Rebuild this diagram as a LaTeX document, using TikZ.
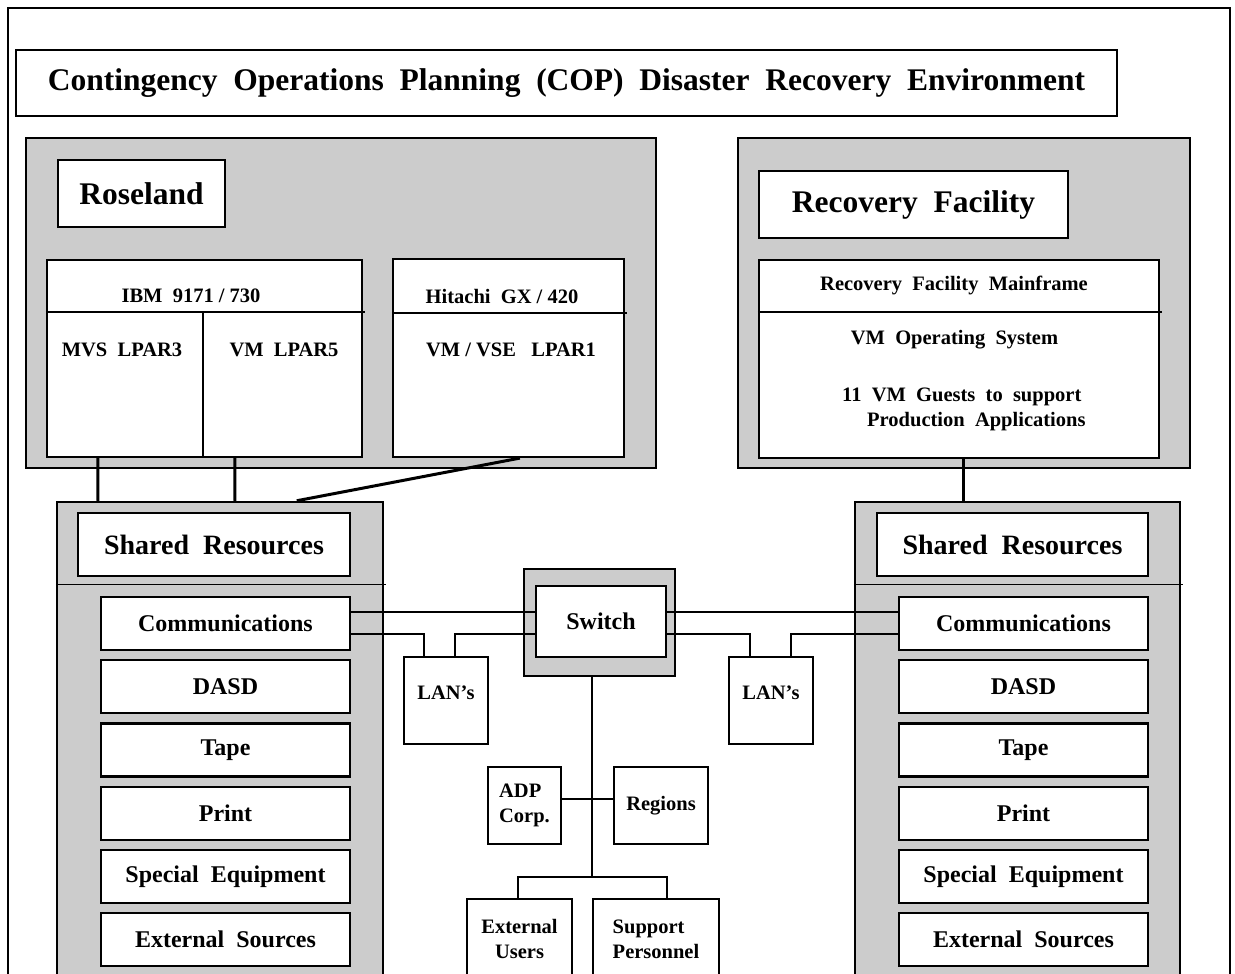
\documentclass[tikz,border=0pt]{standalone}
\usepackage{fontspec}
\setmainfont{Liberation Serif}
\definecolor{panelgrey}{RGB}{204,204,204}
\begin{document}
\begin{tikzpicture}[x=1pt,y=-1pt,
    box/.style={draw,line width=2.2pt,fill=white,inner sep=0pt},
    panel/.style={draw,line width=2.5pt,fill=panelgrey,inner sep=0pt},
    wire/.style={line width=1.4pt},
    link/.style={line width=3pt},
    big/.style={font=\fontsize{31.5}{36}\selectfont\bfseries},
    mid/.style={font=\fontsize{28}{32}\selectfont\bfseries},
    item/.style={font=\fontsize{24}{28}\selectfont\bfseries},
    small/.style={font=\fontsize{20.5}{25}\selectfont\bfseries}]

  \useasboundingbox (0,0) rectangle (1235,974);
  \clip (0,0) rectangle (1235,974);

  \draw[line width=2pt] (8,1000) -- (8,8) -- (1230,8) -- (1230,1000);
  \node[box,big,minimum width=1101pt,minimum height=66pt] (title) at (566.5,83)
    {Contingency~~Operations~~Planning~~(COP)~~Disaster~~Recovery~~Environment};

  % Roseland
  \node[panel,minimum width=630pt,minimum height=330pt] (rose) at (341,303) {};
  \node[box,big,minimum width=167pt,minimum height=67pt] (rosename) at (141.5,193.5) {Roseland};
  \node[box,minimum width=315pt,minimum height=197pt] (ibm) at (204.5,358.5) {};
  \node[box,minimum width=231pt,minimum height=198pt] (hitachi) at (508.5,358) {};
  \draw[wire] ([yshift=-53pt]ibm.north west) -- ([xshift=2pt,yshift=-53pt]ibm.north east);
  \draw[wire] ([xshift=157pt,yshift=-53pt]ibm.north west) -- ([xshift=157pt]ibm.south west);
  \draw[wire] ([yshift=-55pt]hitachi.north west) -- ([xshift=2pt,yshift=-55pt]hitachi.north east);
  \node[small] (ibmname) at (191,296) {IBM~~9171 / 730};
  \node[small] (mvs) at (122,350) {MVS~~LPAR3};
  \node[small] (vmfive) at (284,350) {VM~~LPAR5};
  \node[small] (hitname) at (502,296) {Hitachi~~GX / 420};
  \node[small] (vse) at (511,350) {VM / VSE~~~LPAR1};

  % Recovery Facility
  \node[panel,minimum width=452pt,minimum height=330pt] (recov) at (964,303) {};
  \node[box,big,minimum width=309pt,minimum height=67pt] (recname) at (913.5,204.5) {Recovery~~Facility};
  \node[box,minimum width=400pt,minimum height=198pt] (mainframe) at (959,359) {};
  \draw[wire] ([yshift=-53pt]mainframe.north west) -- ([xshift=2pt,yshift=-53pt]mainframe.north east);
  \node[small] (mfname) at (954,285) {Recovery~~Facility~~Mainframe};
  \node[small] (vmos) at (954.5,340) {VM~~Operating~~System};
  \node[small,align=left,anchor=west,inner sep=0pt] (guests) at (842,409.5)
    {11~~VM~~Guests~~to~~support\\\hspace*{25pt}Production~~Applications};

  % Shared resources, both sites
  \node[panel,minimum width=326pt,minimum height=510pt] (lshared) at (220,757) {};
  \node[panel,minimum width=325pt,minimum height=510pt] (rshared) at (1017.5,757) {};
  \foreach \s in {l,r} {
    \draw[wire] ([yshift=-84pt]\s shared.north west) -- ([xshift=2pt,yshift=-84pt]\s shared.north east);
  }
  \node[box,mid,minimum width=272pt,minimum height=63pt] (lsharedname) at (214,544.5) {Shared~~Resources};
  \node[box,mid,minimum width=271pt,minimum height=63pt] (rsharedname) at (1012.5,544.5) {Shared~~Resources};
  \foreach \s/\cx in {l/225.5,r/1023.5}
    \foreach \n/\txt [count=\i from 0] in {comm/Communications,dasd/DASD,tape/Tape,
        print/Print,special/Special~~Equipment,extsrc/External~~Sources}
      \node[box,item,minimum width=249pt,minimum height=53pt] (\s\n) at (\cx,623.5+63.2*\i) {\txt};

  \draw[link] ([xshift=52pt]ibm.south west) -- ([xshift=42pt]lshared.north west);
  \draw[link] ([xshift=189pt]ibm.south west) -- ([xshift=179pt]lshared.north west);
  \draw[link] ([xshift=128pt]hitachi.south west) -- ([xshift=241pt]lshared.north west);
  \draw[link] ([xshift=4pt]mainframe.south) -- ([xshift=-54.5pt]rshared.north);

  % Switch and LANs
  \node[panel,minimum width=151pt,minimum height=107pt] (swout) at (599.5,622.5) {};
  \node[box,item,minimum width=130pt,minimum height=71pt] (switch) at (601,621.5) {Switch};
  \node[box,minimum width=84pt,minimum height=87pt] (llan) at (446,700.5) {};
  \node[box,minimum width=84pt,minimum height=87pt] (rlan) at (771,700.5) {};
  \node[small] (llantext) at ([yshift=7.5pt]llan.center) {LAN's};
  \node[small] (rlantext) at ([yshift=7.5pt]rlan.center) {LAN's};

  \draw[wire] ([yshift=11.5pt]lcomm.east) -- ([yshift=9.5pt]switch.west);
  \draw[wire] ([yshift=-10.5pt]lcomm.east) -| ([xshift=21pt]llan.north west);
  \draw[wire] ([xshift=52pt]llan.north west) |- ([yshift=-12.5pt]switch.west);
  \draw[wire] ([yshift=9.5pt]switch.east) -- ([yshift=11.5pt]rcomm.west);
  \draw[wire] ([yshift=-12.5pt]switch.east) -| ([xshift=22pt]rlan.north west);
  \draw[wire] ([xshift=63pt]rlan.north west) |- ([yshift=-10.5pt]rcomm.west);

  % users below the switch
  \node[box,small,align=left,minimum width=73pt,minimum height=77pt] (adp) at (524.5,805.5) {ADP\\Corp.};
  \node[box,small,minimum width=94pt,minimum height=77pt] (regions) at (661,805.5) {Regions};
  \node[box,small,align=center,minimum width=105pt,minimum height=80pt] (extusers) at (519.5,939) {External\\Users};
  \node[box,small,align=left,minimum width=126pt,minimum height=80pt] (support) at (656,939) {Support\\Personnel};
  \coordinate (fork) at (592,877);

  \draw[wire] ([xshift=-7.5pt]swout.south) -- (fork);
  \draw[wire] ([yshift=6.5pt]adp.east) -- ([yshift=6.5pt]regions.west);
  \draw[wire] ([xshift=-1.5pt]extusers.north) |- (fork) -| ([xshift=11pt]support.north);
\end{tikzpicture}
\end{document}
